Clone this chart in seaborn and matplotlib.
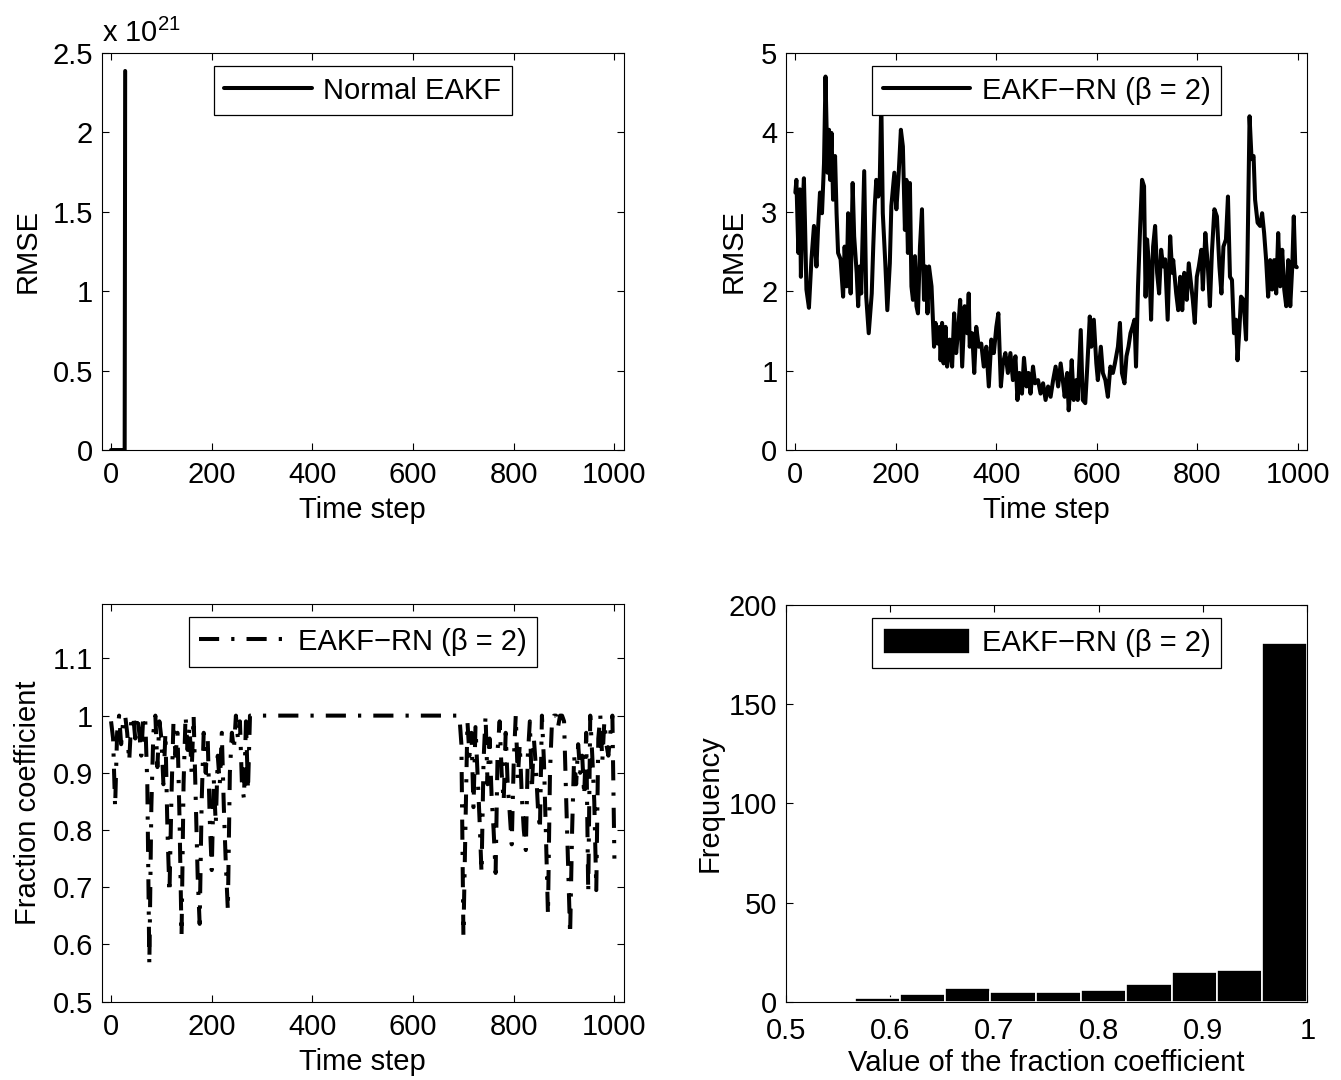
import numpy as np
import matplotlib
matplotlib.use("Agg")
import matplotlib.pyplot as plt
import seaborn as sns
from matplotlib.ticker import FuncFormatter

# --- data ---
# Normal EAKF diverges right after the start
normal_time = [0, 4, 8, 12, 16, 20, 24, 27, 28]
normal_rmse = [3.2, 3.0, 2.8, 3.4, 2.5, 3.1, 4.0, 9.0, 2.385e21]

# EAKF-RN (beta = 2) RMSE
rn_time = [0, 2, 4, 6, 9, 11, 14, 17, 19, 22, 27, 32, 37, 42, 45, 49, 53, 57, 60, 64,
           67, 69, 72, 75, 79, 82, 85, 90, 95, 98, 102, 105, 110, 114, 117, 122, 125, 128, 131, 137,
           141, 146, 152, 155, 158, 161, 165, 168, 171, 174, 179, 183, 188, 191, 197, 201, 205, 210, 214, 218,
           221, 224, 228, 231, 234, 238, 241, 244, 248, 252, 256, 259, 263, 266, 271, 274, 276, 279, 283, 287,
           289, 292, 295, 299, 302, 307, 312, 316, 320, 324, 328, 332, 337, 342, 345, 347, 352, 356, 360, 365,
           370, 375, 380, 385, 390, 395, 400, 404, 409, 413, 418, 423, 428, 433, 438, 442, 446, 451, 455, 460,
           464, 468, 473, 477, 483, 488, 493, 498, 503, 508, 513, 518, 523, 528, 533, 536, 541, 544, 546, 550,
           554, 559, 562, 568, 572, 577, 581, 586, 589, 594, 599, 602, 608, 612, 617, 622, 627, 632, 636, 642,
           646, 650, 655, 659, 663, 667, 671, 675, 678, 682, 686, 690, 694, 697, 700, 705, 708, 712, 716, 720,
           724, 728, 732, 736, 741, 746, 750, 752, 758, 762, 766, 770, 774, 779, 783, 788, 791, 795, 799, 803,
           808, 811, 816, 821, 825, 829, 834, 839, 844, 848, 852, 857, 861, 865, 869, 873, 877, 880, 884, 887,
           892, 897, 900, 904, 908, 912, 915, 920, 925, 929, 933, 937, 941, 945, 949, 953, 957, 961, 965, 969,
           973, 977, 981, 985, 989, 992, 995, 998]
rn_rmse = [3.24, 3.40, 2.94, 2.48, 3.28, 2.18, 3.00, 3.42, 2.90, 2.02, 1.79, 2.40, 2.82, 2.31, 2.77, 3.24, 2.98, 3.61, 4.70, 3.49,
           4.03, 3.40, 3.99, 3.15, 3.70, 2.98, 2.48, 2.40, 1.93, 2.56, 2.06, 2.98, 1.97, 3.36, 2.69, 2.23, 1.81, 2.31, 1.97, 3.51,
           1.93, 1.47, 1.97, 2.56, 3.07, 3.40, 3.19, 3.40, 4.40, 2.98, 2.35, 1.76, 2.35, 3.07, 3.49, 3.03, 3.40, 4.03, 3.82, 2.77,
           3.40, 2.48, 3.36, 2.06, 1.89, 2.44, 1.81, 1.72, 2.56, 3.03, 1.89, 2.31, 1.72, 2.31, 2.06, 1.60, 1.30, 1.60, 1.34, 1.55,
           1.13, 1.60, 1.09, 1.55, 1.05, 1.39, 1.05, 1.72, 1.22, 1.51, 1.89, 1.05, 1.81, 1.47, 1.97, 1.30, 1.47, 0.97, 1.55, 1.30,
           1.34, 1.05, 1.30, 0.80, 1.39, 1.22, 1.55, 1.72, 0.80, 1.09, 1.22, 0.97, 1.22, 0.88, 1.18, 0.63, 0.97, 0.71, 1.16, 0.80,
           0.97, 0.71, 1.05, 0.84, 0.88, 0.71, 0.84, 0.63, 0.80, 0.67, 0.88, 1.05, 0.80, 1.09, 0.84, 0.67, 0.97, 0.50, 0.67, 1.13,
           0.63, 0.88, 0.63, 1.51, 0.63, 0.59, 1.05, 1.68, 1.30, 1.64, 1.09, 0.88, 1.30, 0.97, 0.88, 0.67, 1.05, 0.97, 1.09, 1.30,
           1.60, 0.97, 0.84, 1.18, 1.30, 1.47, 1.55, 1.64, 1.05, 2.06, 2.77, 3.40, 3.32, 1.93, 2.65, 2.23, 1.64, 2.56, 2.82, 2.23,
           1.97, 2.52, 2.31, 2.40, 1.64, 2.69, 2.23, 2.39, 1.97, 1.76, 2.18, 1.76, 2.23, 1.89, 2.35, 2.06, 1.89, 1.60, 2.18, 2.31,
           2.52, 2.02, 2.73, 2.31, 1.81, 2.48, 3.03, 2.94, 2.31, 1.97, 2.56, 2.65, 3.19, 2.18, 2.14, 1.47, 1.64, 1.13, 1.55, 1.93,
           1.89, 1.39, 2.48, 4.20, 3.66, 3.70, 3.15, 2.86, 2.82, 2.98, 2.73, 2.39, 1.93, 2.39, 2.02, 2.39, 1.97, 2.73, 2.06, 2.52,
           2.02, 1.81, 2.39, 1.81, 2.31, 2.94, 2.31, 2.30]

# fraction coefficient (beta = 2)
frac_time = [0, 4, 8, 12, 16, 20, 24, 28, 32, 36, 40, 44, 48, 52, 56, 60, 64, 68, 72, 76,
             80, 84, 88, 92, 96, 100, 104, 108, 112, 116, 120, 124, 128, 132, 136, 140, 144, 148, 152, 156,
             160, 164, 168, 172, 176, 180, 184, 188, 192, 196, 200, 204, 208, 212, 216, 220, 224, 228, 232, 236,
             240, 244, 248, 252, 256, 260, 264, 268, 272, 276, 692, 696, 700, 704, 708, 712, 716, 720, 724, 728,
             732, 736, 740, 744, 748, 752, 756, 760, 764, 768, 772, 776, 780, 784, 788, 792, 796, 800, 804, 808,
             812, 816, 820, 824, 828, 832, 836, 840, 844, 848, 852, 856, 860, 864, 868, 872, 876, 880, 884, 888,
             892, 896, 900, 904, 908, 912, 916, 920, 924, 928, 932, 936, 940, 944, 948, 952, 956, 960, 964, 968,
             972, 976, 980, 984, 988, 992, 996, 1000]
frac_coef = [0.99, 0.96, 0.84, 0.97, 1.00, 0.95, 0.99, 1.00, 0.97, 0.92, 0.99, 1.00, 0.96, 1.00, 0.97, 0.93, 1.00, 0.99, 0.88, 0.565,
             0.84, 0.97, 1.00, 0.91, 0.99, 0.96, 0.88, 0.97, 0.80, 0.69, 0.86, 0.99, 0.93, 0.97, 0.82, 0.615, 0.88, 1.00, 0.94, 0.98,
             0.90, 1.00, 0.86, 0.72, 0.636, 0.85, 0.97, 0.90, 0.96, 0.82, 0.73, 0.89, 0.81, 0.93, 0.88, 0.97, 0.84, 0.74, 0.66, 0.90,
             0.97, 0.94, 1.00, 0.96, 0.99, 0.88, 0.855, 0.99, 0.87, 1.00, 1.00, 0.95, 0.615, 0.80, 0.99, 0.93, 0.97, 0.84, 0.98, 0.90,
             0.82, 0.725, 0.92, 1.00, 0.88, 0.96, 0.86, 0.80, 0.725, 0.94, 0.99, 0.90, 0.85, 0.97, 0.88, 0.83, 0.775, 0.92, 1.00, 0.89,
             0.95, 0.86, 0.80, 0.765, 0.93, 0.99, 0.87, 0.96, 0.91, 0.84, 0.80, 1.00, 0.92, 0.79, 0.652, 0.90, 0.99, 1.00, 1.00, 0.98,
             1.00, 1.00, 0.99, 0.86, 0.74, 0.617, 0.80, 0.93, 0.88, 0.95, 0.90, 0.93, 0.86, 0.97, 0.69, 1.00, 0.93, 0.85, 0.695, 0.96,
             1.00, 0.92, 0.99, 0.95, 0.93, 0.97, 1.00, 0.75]

# histogram of the fraction coefficient (10 bins between min and max)
hist_edges = [0.566, 0.6094, 0.6528, 0.6962, 0.7396, 0.783, 0.8264, 0.8698, 0.9132, 0.9566, 1.0]
hist_counts = [2, 4, 7, 5, 5, 6, 9, 15, 16, 181]

label_normal = "Normal EAKF"
label_rn = "EAKF\u2212RN (\u03b2 = 2)"

FS = 21
sns.set_style("ticks", {
    "xtick.direction": "in", "ytick.direction": "in",
    "axes.edgecolor": "black", "text.color": "black",
    "axes.labelcolor": "black", "xtick.color": "black", "ytick.color": "black",
})
plt.rcParams["font.family"] = ["Liberation Sans", "DejaVu Sans"]
plt.rcParams["mathtext.fontset"] = "custom"
plt.rcParams["mathtext.rm"] = "Liberation Sans"
plt.rcParams["mathtext.default"] = "regular"
plt.rcParams["font.size"] = FS
plt.rcParams["axes.linewidth"] = 0.8
plt.rcParams["xtick.major.size"] = 5
plt.rcParams["ytick.major.size"] = 5
plt.rcParams["xtick.major.width"] = 0.8
plt.rcParams["ytick.major.width"] = 0.8
plt.rcParams["xtick.major.pad"] = 8
plt.rcParams["ytick.major.pad"] = 6

fig = plt.figure(figsize=(13.41, 10.80), dpi=100)
ax_tl = fig.add_axes([0.0757, 0.5833, 0.3896, 0.3679])
ax_tr = fig.add_axes([0.586, 0.5833, 0.3889, 0.3679])
ax_bl = fig.add_axes([0.0757, 0.0725, 0.3896, 0.3682])
ax_br = fig.add_axes([0.586, 0.0725, 0.3889, 0.3673])

LW = 2.9

sns.lineplot(x=normal_time, y=normal_rmse, ax=ax_tl, color="black", lw=LW,
             estimator=None, sort=False, label=label_normal, legend=False)
sns.lineplot(x=rn_time, y=rn_rmse, ax=ax_tr, color="black", lw=LW,
             estimator=None, sort=False, label=label_rn, legend=False)
sns.lineplot(x=frac_time, y=frac_coef, ax=ax_bl, color="black", lw=LW,
             estimator=None, sort=False, label=label_rn, legend=False)
for ln in ax_bl.lines:
    ln.set_linestyle((0, (5, 3, 0.8, 3)))

bin_centers = [(a + b) / 2 for a, b in zip(hist_edges[:-1], hist_edges[1:])]
sns.histplot(x=bin_centers, weights=hist_counts, bins=hist_edges, ax=ax_br,
             color="black", edgecolor="white", linewidth=1.2, alpha=1,
             label=label_rn)

for ax in (ax_tl, ax_tr, ax_bl):
    ax.set_xlim(-19, 1019)
    ax.set_xticks([0, 200, 400, 600, 800, 1000])
    ax.set_xlabel("Time step", fontsize=FS, labelpad=5)

ax_tl.set_ylim(0, 2.5e21)
ax_tl.set_yticks(np.arange(0, 2.51e21, 0.5e21))
ax_tl.yaxis.set_major_formatter(FuncFormatter(lambda v, p: "%g" % (v / 1e21)))
ax_tl.text(0.0, 1.012, r"x 10$^{21}$", transform=ax_tl.transAxes,
           ha="left", va="bottom", fontsize=FS)
ax_tl.set_ylabel("RMSE", fontsize=FS, labelpad=8)

ax_tr.set_ylim(0, 5)
ax_tr.set_yticks([0, 1, 2, 3, 4, 5])
ax_tr.set_ylabel("RMSE", fontsize=FS, labelpad=10)

ax_bl.set_ylim(0.5, 1.195)
ax_bl.set_yticks([0.5, 0.6, 0.7, 0.8, 0.9, 1.0, 1.1])
ax_bl.yaxis.set_major_formatter(FuncFormatter(lambda v, p: "%g" % round(v, 2)))
ax_bl.set_ylabel("Fraction coefficient", fontsize=FS, labelpad=8)

ax_br.set_xlim(0.5, 1.0)
ax_br.set_xticks([0.5, 0.6, 0.7, 0.8, 0.9, 1.0])
ax_br.xaxis.set_major_formatter(FuncFormatter(lambda v, p: "%g" % round(v, 2)))
ax_br.set_ylim(0, 200)
ax_br.set_yticks([0, 50, 100, 150, 200])
ax_br.set_xlabel("Value of the fraction coefficient", fontsize=FS, labelpad=3)
ax_br.set_ylabel("Frequency", fontsize=FS, labelpad=4)

for ax in (ax_tl, ax_tr, ax_bl, ax_br):
    for s in ax.spines.values():
        s.set_visible(True)
        s.set_color("black")
    ax.tick_params(axis="both", which="both", top=True, right=True,
                   direction="in", labelsize=FS)
    leg = ax.legend(loc="upper center", bbox_to_anchor=(0.5, 0.967),
                    borderaxespad=0, fontsize=FS, frameon=True, fancybox=False,
                    framealpha=1, edgecolor="black", handlelength=3.0,
                    handleheight=1.0, handletextpad=0.4, borderpad=0.35)
    leg.get_frame().set_linewidth(0.9)

# keep the "0" of the y axis clear of the "0.5" below it
ax_br.tick_params(axis="x", pad=11)

fig.savefig("out.png", dpi=100)
